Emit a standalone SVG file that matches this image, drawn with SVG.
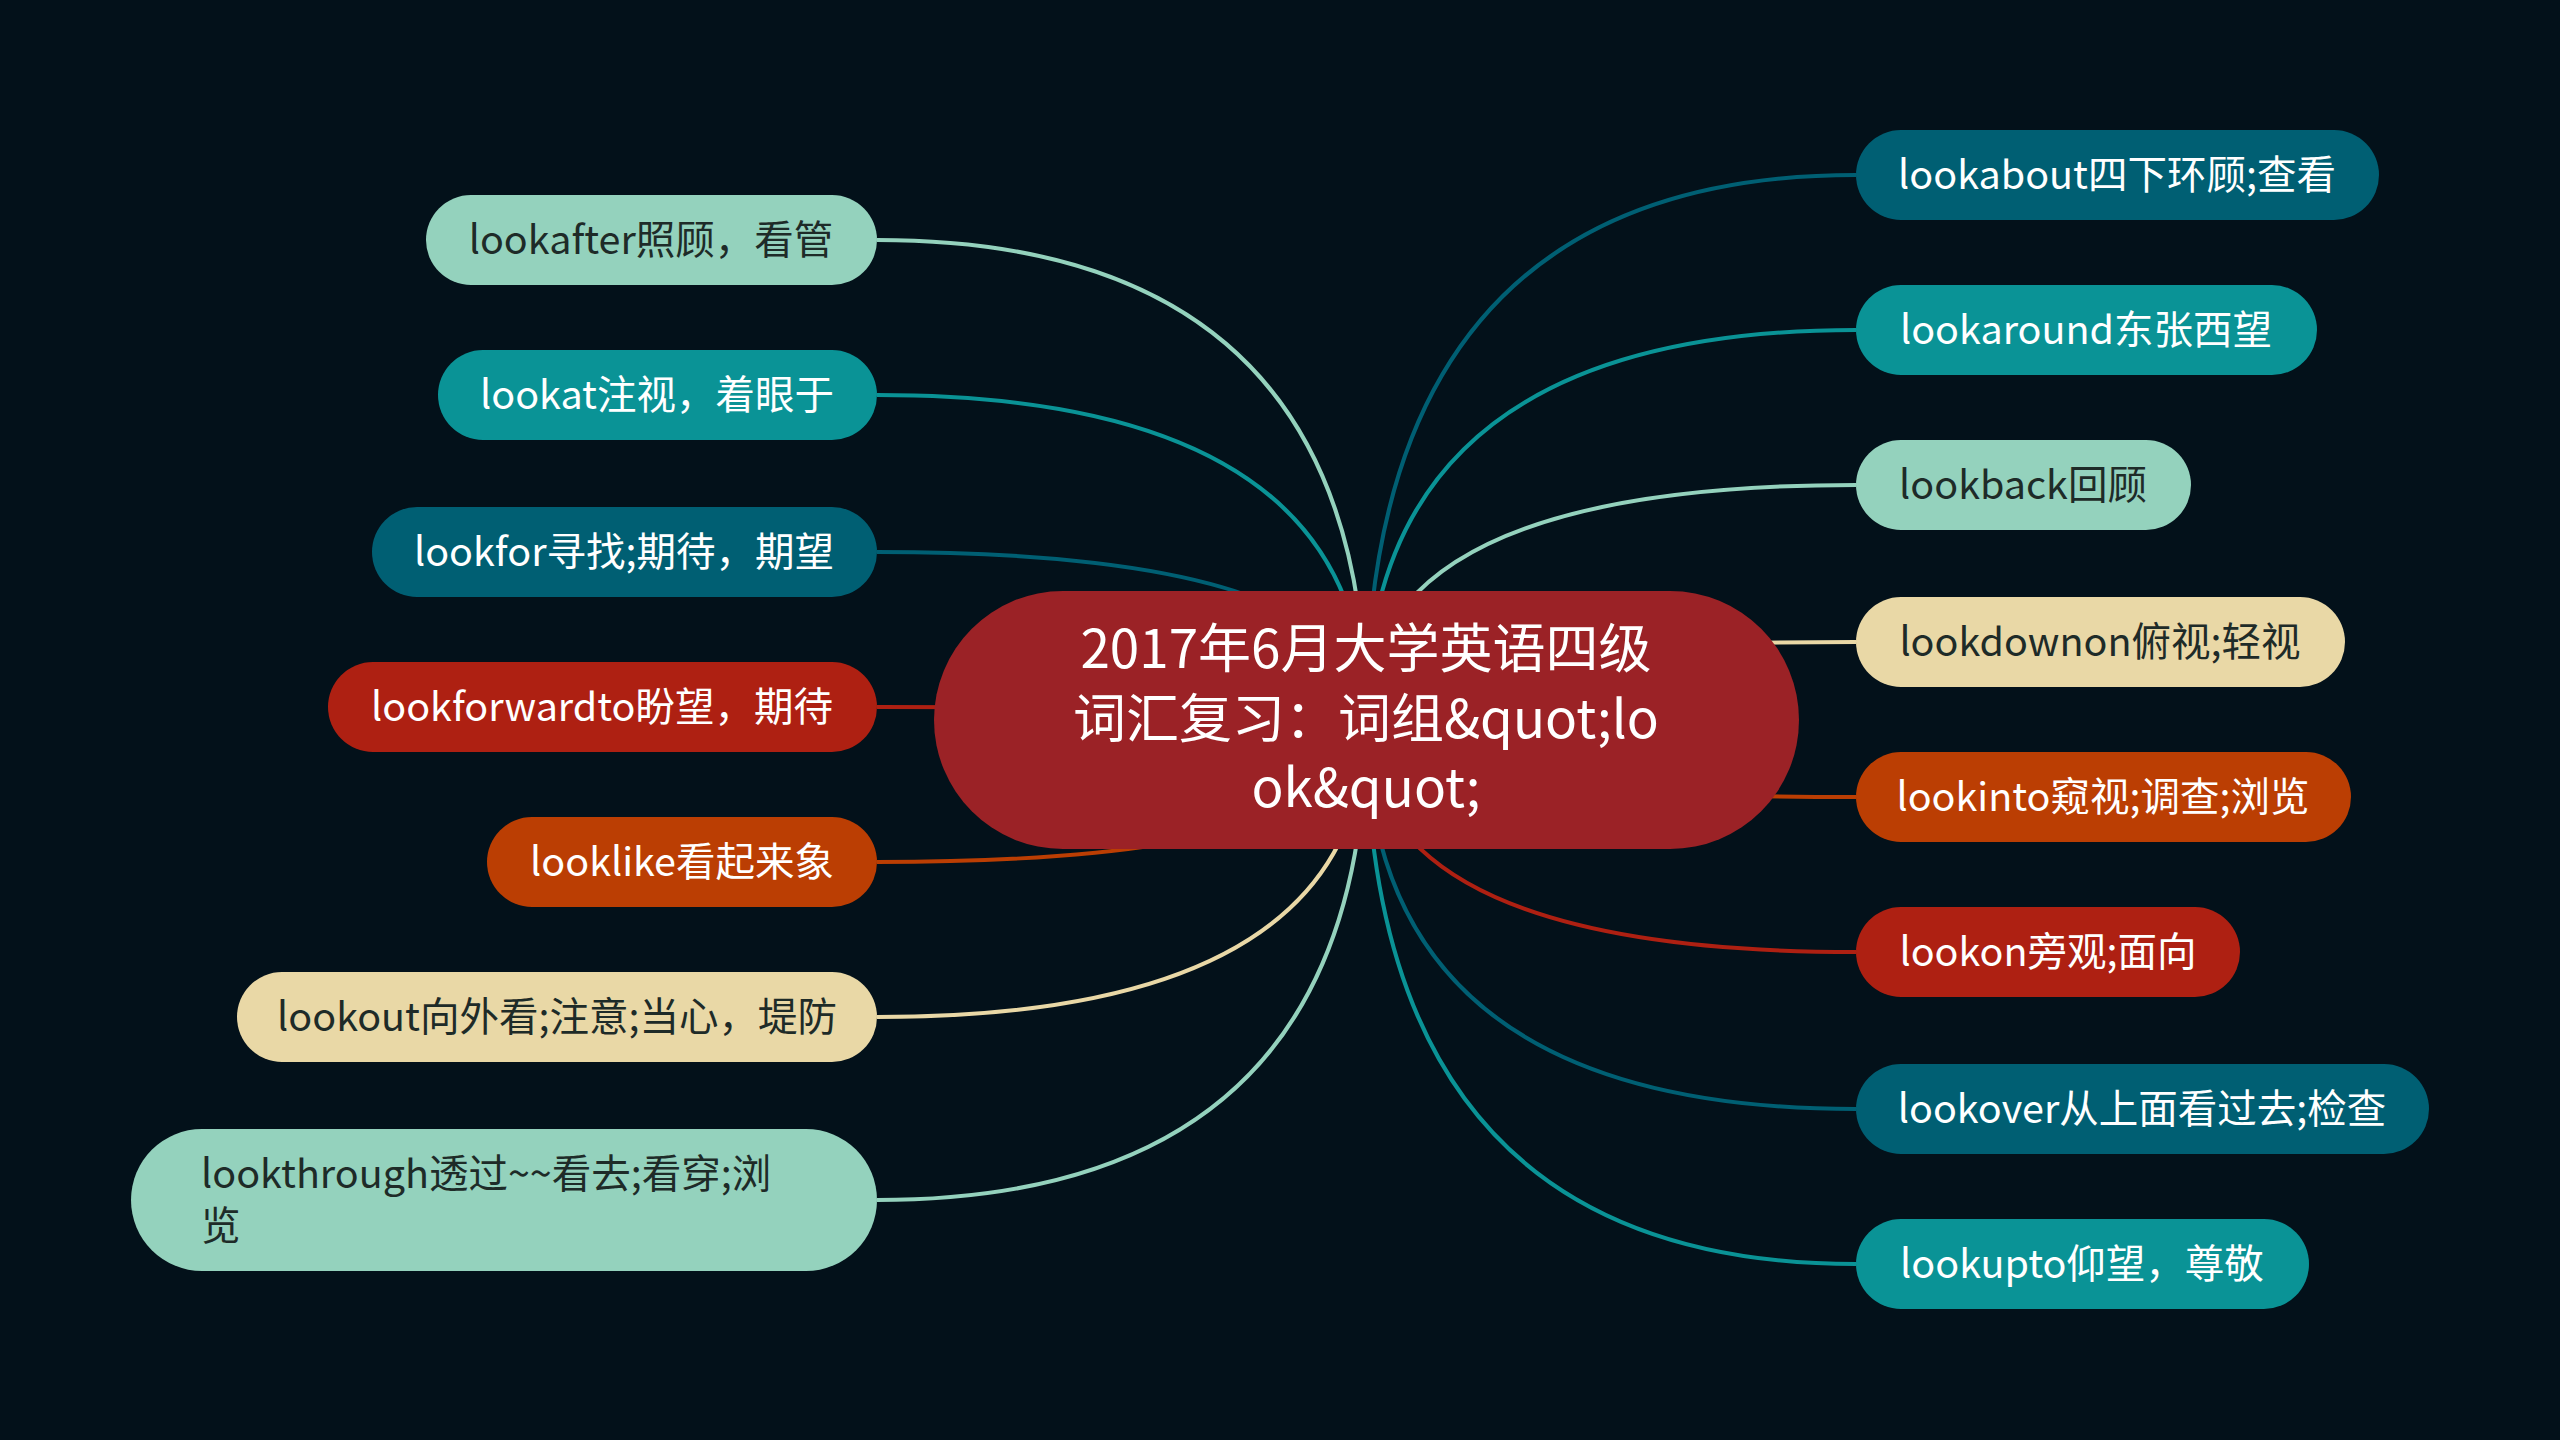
<svg xmlns="http://www.w3.org/2000/svg" width="2560" height="1440" viewBox="0 0 2560 1440">
<style>
.t{font-family:"Noto Sans CJK SC","Noto Sans",sans-serif;font-size:39.5px}
.w{fill:#ffffff}
.d{fill:#1e2b28}
.c{fill:none;stroke-width:4}
</style>
<rect width="2560" height="1440" fill="#03111a"/>
<g id="connectors">
<path class="c" stroke="#94D2BD" d="M1366 720 Q1366 240 877 240"/>
<path class="c" stroke="#0A9396" d="M1366 720 Q1366 395 877 395"/>
<path class="c" stroke="#005F73" d="M1366 720 Q1366 552 877 552"/>
<path class="c" stroke="#AE2012" d="M1366 720 Q1366 707 877 707"/>
<path class="c" stroke="#BB3E03" d="M1366 720 Q1366 862 877 862"/>
<path class="c" stroke="#E9D8A6" d="M1366 720 Q1366 1017 877 1017"/>
<path class="c" stroke="#94D2BD" d="M1366 720 Q1366 1200 877 1200"/>
<path class="c" stroke="#005F73" d="M1366 720 Q1366 175 1856 175"/>
<path class="c" stroke="#0A9396" d="M1366 720 Q1366 330 1856 330"/>
<path class="c" stroke="#94D2BD" d="M1366 720 Q1366 485 1856 485"/>
<path class="c" stroke="#E9D8A6" d="M1366 720 Q1366 642 1856 642"/>
<path class="c" stroke="#BB3E03" d="M1366 720 Q1366 797 1856 797"/>
<path class="c" stroke="#AE2012" d="M1366 720 Q1366 952 1856 952"/>
<path class="c" stroke="#005F73" d="M1366 720 Q1366 1109 1856 1109"/>
<path class="c" stroke="#0A9396" d="M1366 720 Q1366 1264 1856 1264"/>
</g>
<g id="center">
<rect x="934" y="591" width="865" height="258" rx="129" fill="#9B2226"/>
<text font-family="Noto Sans CJK SC, Noto Sans, sans-serif" font-size="53" fill="#fff" text-anchor="middle"><tspan x="1366" y="668">2017年6月大学英语四级</tspan><tspan x="1366" y="738">词汇复习：词组&amp;quot;lo</tspan><tspan x="1366" y="807">ok&amp;quot;</tspan></text>
</g>
<g id="n-lookafter"><rect x="426" y="195" width="451" height="90" rx="45" fill="#94D2BD"/><text class="t d" x="651" y="254" text-anchor="middle">lookafter照顾，看管</text></g>
<g id="n-lookat"><rect x="438" y="350" width="439" height="90" rx="45" fill="#0A9396"/><text class="t w" x="657" y="409" text-anchor="middle">lookat注视，着眼于</text></g>
<g id="n-lookfor"><rect x="372" y="507" width="505" height="90" rx="45" fill="#005F73"/><text class="t w" x="624" y="566" text-anchor="middle">lookfor寻找;期待，期望</text></g>
<g id="n-lookforwardto"><rect x="328" y="662" width="549" height="90" rx="45" fill="#AE2012"/><text class="t w" x="602" y="721" text-anchor="middle">lookforwardto盼望，期待</text></g>
<g id="n-looklike"><rect x="487" y="817" width="390" height="90" rx="45" fill="#BB3E03"/><text class="t w" x="682" y="876" text-anchor="middle">looklike看起来象</text></g>
<g id="n-lookout"><rect x="237" y="972" width="640" height="90" rx="45" fill="#E9D8A6"/><text class="t d" x="557" y="1031" text-anchor="middle">lookout向外看;注意;当心，堤防</text></g>
<g id="n-lookthrough"><rect x="131" y="1129" width="746" height="142" rx="71" fill="#94D2BD"/><text class="t d"><tspan x="201" y="1188">lookthrough透过~~看去;看穿;浏</tspan><tspan x="201" y="1240">览</tspan></text></g>
<g id="n-lookabout"><rect x="1856" y="130" width="523" height="90" rx="45" fill="#005F73"/><text class="t w" x="2117" y="189" text-anchor="middle">lookabout四下环顾;查看</text></g>
<g id="n-lookaround"><rect x="1856" y="285" width="461" height="90" rx="45" fill="#0A9396"/><text class="t w" x="2086" y="344" text-anchor="middle">lookaround东张西望</text></g>
<g id="n-lookback"><rect x="1856" y="440" width="335" height="90" rx="45" fill="#94D2BD"/><text class="t d" x="2023" y="499" text-anchor="middle">lookback回顾</text></g>
<g id="n-lookdownon"><rect x="1856" y="597" width="489" height="90" rx="45" fill="#E9D8A6"/><text class="t d" x="2100" y="656" text-anchor="middle">lookdownon俯视;轻视</text></g>
<g id="n-lookinto"><rect x="1856" y="752" width="495" height="90" rx="45" fill="#BB3E03"/><text class="t w" x="2103" y="811" text-anchor="middle">lookinto窥视;调查;浏览</text></g>
<g id="n-lookon"><rect x="1856" y="907" width="384" height="90" rx="45" fill="#AE2012"/><text class="t w" x="2048" y="966" text-anchor="middle">lookon旁观;面向</text></g>
<g id="n-lookover"><rect x="1856" y="1064" width="573" height="90" rx="45" fill="#005F73"/><text class="t w" x="2142" y="1123" text-anchor="middle">lookover从上面看过去;检查</text></g>
<g id="n-lookupto"><rect x="1856" y="1219" width="453" height="90" rx="45" fill="#0A9396"/><text class="t w" x="2082" y="1278" text-anchor="middle">lookupto仰望，尊敬</text></g>
</svg>
